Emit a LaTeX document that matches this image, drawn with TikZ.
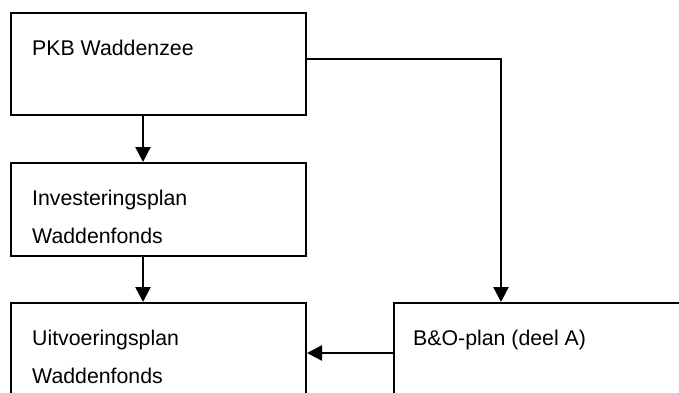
\documentclass[tikz,border=0pt]{standalone}
\usepackage{fontspec}
\setmainfont{Liberation Sans}
\usetikzlibrary{arrows.meta,calc}
\begin{document}
\begin{tikzpicture}[x=1pt,y=-1pt,
  box/.style={draw,line width=2pt,rectangle,inner sep=0pt,anchor=north west},
  lbl/.style={inner sep=0pt,anchor=base west,align=left,font=\fontsize{21.3}{38}\selectfont},
  arr/.style={line width=2.4pt,-{Triangle[length=15pt,width=15pt]}}]
\path[use as bounding box,clip] (0,0) rectangle (679,392);
\fill[white] (0,0) rectangle (679,392);
\node[box,minimum width=295pt,minimum height=102pt] (pkb) at (10,12) {};
\node[box,minimum width=295pt,minimum height=93pt] (inv) at (10,162) {};
\node[box,minimum width=295pt,minimum height=120pt] (uit) at (10,302) {};
\node[box,minimum width=330pt,minimum height=120pt] (bo) at (393,302) {};
\node[lbl] (t1) at (32,55.5) {PKB Waddenzee};
\node[lbl] (t2) at (32,243.5) {Investeringsplan\\Waddenfonds};
\node[lbl] (t3) at (32,383.5) {Uitvoeringsplan\\Waddenfonds};
\node[lbl] (t4) at (413,345.5) {B\&O-plan (deel A)};
\draw[arr] ([xshift=-15.5pt]pkb.south) -- ([xshift=-15.5pt]inv.north);
\draw[arr] ([xshift=-15.5pt]inv.south) -- ([xshift=-15.5pt]uit.north);
\draw[arr] ([yshift=5pt]pkb.east) -| ([xshift=108pt]bo.north west);
\draw[arr] ([yshift=10pt]bo.west) -- ([yshift=10pt]bo.west -| uit.east);
\end{tikzpicture}
\end{document}
